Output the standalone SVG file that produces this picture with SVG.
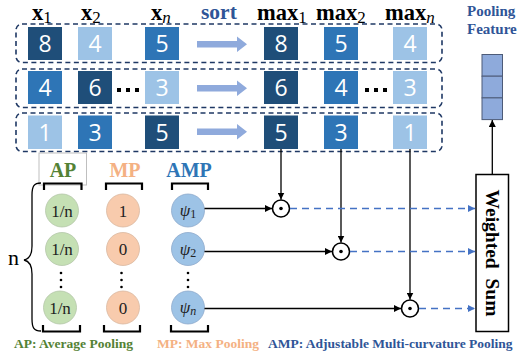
<svg xmlns="http://www.w3.org/2000/svg" width="519" height="362" viewBox="0 0 519 362">
<defs>
<style>
.dbox{fill:none;stroke:#1f3864;stroke-width:1.6;stroke-dasharray:5,3.5}
.dk{fill:#1f4e79}.md{fill:#2e75b6}.lt{fill:#9dc3e6}
.num{font-family:"Open Sans","Liberation Sans",sans-serif;font-size:23px;fill:#fff;text-anchor:middle}
.hdr{font-family:"Liberation Serif",serif;font-weight:bold;font-size:22.5px;fill:#000}
.sub{font-family:"Liberation Serif",serif;font-weight:normal;font-size:17px;fill:#000}
.subi{font-family:"Liberation Serif",serif;font-weight:normal;font-style:italic;font-size:17px;fill:#000}
.sarrow{fill:#8faadc}
.bl{font-family:"Liberation Serif",serif;font-weight:bold;fill:#2f5597}
.ctext{font-family:"Liberation Serif",serif;font-size:17px;fill:#222;text-anchor:middle}
.cg{fill:#c5e0b4;stroke:#b4c7a8;stroke-width:0.8}
.co{fill:#f8cbad;stroke:#d9b8a0;stroke-width:0.8}
.cb{fill:#9dc3e6;stroke:#8eaacc;stroke-width:0.8}
.brk{fill:none;stroke:#000;stroke-width:2.2}
.ln{fill:none;stroke:#000;stroke-width:1.3}
.dash{fill:none;stroke:#4472c4;stroke-width:1.5;stroke-dasharray:7,5}
.dot{fill:#000}
.cell{fill:#8eaadb;stroke:#4d5b78;stroke-width:1}
.odot{fill:#fff;stroke:#000;stroke-width:1.6}
</style>
<marker id="ah" viewBox="0 0 10 10" refX="10" refY="5" markerWidth="7" markerHeight="7" markerUnits="userSpaceOnUse" orient="auto"><path d="M0,0L10,5L0,10z" fill="#000"/></marker>
<marker id="ahb" viewBox="0 0 10 10" refX="10" refY="5" markerWidth="7" markerHeight="7" markerUnits="userSpaceOnUse" orient="auto"><path d="M0,0L10,5L0,10z" fill="#4472c4"/></marker>
</defs>
<rect width="519" height="362" fill="#fff"/>

<g id="headers">
<text x="32" y="20" class="hdr">x<tspan class="sub" dy="3">1</tspan></text>
<text x="81" y="20" class="hdr">x<tspan class="sub" dy="3">2</tspan></text>
<text x="151" y="20" class="hdr">x<tspan class="subi" dy="3">n</tspan></text>
<text x="201" y="19" class="bl" font-size="21.5">sort</text>
<text x="257" y="20" class="hdr">max<tspan class="sub" dy="3">1</tspan></text>
<text x="316" y="20" class="hdr">max<tspan class="sub" dy="3">2</tspan></text>
<text x="385" y="20" class="hdr">max<tspan class="subi" dy="3">n</tspan></text>
<text x="467" y="16" class="bl" font-size="15">Pooling</text>
<text x="467" y="34" class="bl" font-size="15">Feature</text>
</g>

<g id="row1">
<rect x="16" y="24" width="426" height="38.5" rx="6" class="dbox"/>
<rect x="28" y="27" width="34" height="33" class="dk"/><text x="45" y="52" class="num">8</text>
<rect x="78" y="27" width="34" height="33" class="lt"/><text x="95" y="52" class="num">4</text>
<rect x="145" y="27" width="34" height="33" class="md"/><text x="162" y="52" class="num">5</text>
<path d="M197,41 H237 V36.5 L247,44.3 L237,52 V47.6 H197 Z" class="sarrow"/>
<rect x="264" y="27" width="34" height="33" class="dk"/><text x="281" y="52" class="num">8</text>
<rect x="324" y="27" width="34" height="33" class="md"/><text x="341" y="52" class="num">5</text>
<rect x="393" y="27" width="34" height="33" class="lt"/><text x="410" y="52" class="num">4</text>
</g>
<g id="row2">
<rect x="16" y="69" width="426" height="38.5" rx="6" class="dbox"/>
<rect x="28" y="71" width="34" height="33" class="md"/><text x="45" y="96" class="num">4</text>
<rect x="78" y="71" width="34" height="33" class="dk"/><text x="95" y="96" class="num">6</text>
<rect x="117" y="88" width="4" height="4" class="dot"/><rect x="126" y="88" width="4" height="4" class="dot"/><rect x="135" y="88" width="4" height="4" class="dot"/>
<rect x="145" y="71" width="34" height="33" class="lt"/><text x="162" y="96" class="num">3</text>
<path d="M197,85 H237 V80.5 L247,88.3 L237,96 V91.6 H197 Z" class="sarrow"/>
<rect x="264" y="71" width="34" height="33" class="dk"/><text x="281" y="96" class="num">6</text>
<rect x="324" y="71" width="34" height="33" class="md"/><text x="341" y="96" class="num">4</text>
<rect x="365" y="88" width="4" height="4" class="dot"/><rect x="374" y="88" width="4" height="4" class="dot"/><rect x="383" y="88" width="4" height="4" class="dot"/>
<rect x="393" y="71" width="34" height="33" class="lt"/><text x="410" y="96" class="num">3</text>
</g>
<g id="row3">
<rect x="16" y="113" width="426" height="38.5" rx="6" class="dbox"/>
<rect x="28" y="115.5" width="34" height="33.5" class="lt"/><text x="45" y="140.5" class="num">1</text>
<rect x="78" y="115.5" width="34" height="33.5" class="md"/><text x="95" y="140.5" class="num">3</text>
<rect x="145" y="115.5" width="34" height="33.5" class="dk"/><text x="162" y="140.5" class="num">5</text>
<path d="M197,128.5 H237 V124 L247,131.7 L237,139.5 V135 H197 Z" class="sarrow"/>
<rect x="264" y="115.5" width="34" height="33.5" class="dk"/><text x="281" y="140.5" class="num">5</text>
<rect x="324" y="115.5" width="34" height="33.5" class="md"/><text x="341" y="140.5" class="num">3</text>
<rect x="393" y="115.5" width="34" height="33.5" class="lt"/><text x="410" y="140.5" class="num">1</text>
</g>

<g id="pooling-feature">
<rect x="482" y="54.5" width="20.5" height="21.7" class="cell"/>
<rect x="482" y="76.2" width="20.5" height="21.7" class="cell"/>
<rect x="482" y="97.9" width="20.5" height="21.7" class="cell"/>
</g>

<g id="ap">
<rect x="39" y="153" width="47.5" height="32" fill="none" stroke="#bfbfbf" stroke-width="1"/>
<text x="63" y="177" class="bl" font-size="20" style="fill:#548235" text-anchor="middle">AP</text>
<path d="M44,190 V183.5 H81.5 V190" class="brk"/>
<circle cx="62" cy="210.5" r="16.5" class="cg"/><text x="62" y="216.5" class="ctext">1/n</text>
<circle cx="62" cy="249" r="16.5" class="cg"/><text x="62" y="255" class="ctext">1/n</text>
<circle cx="61" cy="273" r="1.3" class="dot"/><circle cx="61" cy="280" r="1.3" class="dot"/><circle cx="61" cy="287" r="1.3" class="dot"/>
<circle cx="60" cy="307.5" r="16.5" class="cg"/><text x="60" y="313.5" class="ctext">1/n</text>
<path d="M43,325 V331.5 H80 V325" class="brk"/>
</g>
<g id="mp">
<text x="125" y="177" class="bl" font-size="20" style="fill:#f4b183" text-anchor="middle">MP</text>
<path d="M106,190 V183.5 H142 V190" class="brk"/>
<circle cx="123" cy="210.5" r="16.5" class="co"/><text x="123" y="216.5" class="ctext">1</text>
<circle cx="123" cy="249" r="16.5" class="co"/><text x="123" y="255" class="ctext">0</text>
<circle cx="121.5" cy="273" r="1.3" class="dot"/><circle cx="121.5" cy="280" r="1.3" class="dot"/><circle cx="121.5" cy="287" r="1.3" class="dot"/>
<circle cx="123" cy="307.5" r="16.5" class="co"/><text x="123" y="313.5" class="ctext">0</text>
<path d="M104,325 V331.5 H140 V325" class="brk"/>
</g>
<g id="amp">
<text x="189" y="177" class="bl" font-size="20" style="fill:#2e75b6" text-anchor="middle">AMP</text>
<path d="M172,190 V183.5 H208 V190" class="brk"/>
<circle cx="188" cy="210.5" r="16.5" class="cb"/><text x="188" y="216" class="ctext" font-style="italic">ψ<tspan font-style="normal" font-size="12" dy="2">1</tspan></text>
<circle cx="188" cy="249" r="16.5" class="cb"/><text x="188" y="254.5" class="ctext" font-style="italic">ψ<tspan font-style="normal" font-size="12" dy="2">2</tspan></text>
<circle cx="188" cy="273" r="1.3" class="dot"/><circle cx="188" cy="280" r="1.3" class="dot"/><circle cx="188" cy="287" r="1.3" class="dot"/>
<circle cx="188" cy="307.5" r="16.5" class="cb"/><text x="188" y="313" class="ctext" font-style="italic">ψ<tspan font-size="12" dy="2">n</tspan></text>
<path d="M171,325 V331.5 H208 V325" class="brk"/>
</g>

<g id="brace">
<text x="8" y="265" font-family="Liberation Serif,serif" font-size="22">n</text>
<path d="M41,183 C34,183 32,186 32,195 V246 C32,254 29,259 24,260 C29,261 32,266 32,274 V319 C32,328 34,331 41,331" class="ln" stroke-width="1.4"/>
</g>

<g id="mult1"><circle cx="281" cy="208.5" r="8.5" class="odot"/><circle cx="281" cy="208.5" r="1.8" class="dot"/></g>
<g id="mult2"><circle cx="341" cy="251.5" r="8.5" class="odot"/><circle cx="341" cy="251.5" r="1.8" class="dot"/></g>
<g id="mult3"><circle cx="410" cy="308.5" r="8.5" class="odot"/><circle cx="410" cy="308.5" r="1.8" class="dot"/></g>

<g id="weighted-sum">
<rect x="476" y="174.5" width="32.5" height="157" fill="#fff" stroke="#000" stroke-width="1.5"/>
<text transform="translate(485.5,253) rotate(90)" font-family="Liberation Serif,serif" font-weight="bold" font-size="19.5" text-anchor="middle" xml:space="preserve">Weighted  Sum</text>
</g>

<g id="connectors">
<line x1="281" y1="149" x2="281" y2="199.5" class="ln" marker-end="url(#ah)"/>
<line x1="341" y1="149" x2="341" y2="242.5" class="ln" marker-end="url(#ah)"/>
<line x1="410" y1="149" x2="410" y2="299.5" class="ln" marker-end="url(#ah)"/>
<line x1="204.5" y1="208.5" x2="272" y2="208.5" class="ln" marker-end="url(#ah)"/>
<line x1="204.5" y1="251.5" x2="332" y2="251.5" class="ln" marker-end="url(#ah)"/>
<line x1="204.5" y1="308.5" x2="401" y2="308.5" class="ln" marker-end="url(#ah)"/>
<line x1="290" y1="208.5" x2="475" y2="208.5" class="dash" marker-end="url(#ahb)"/>
<line x1="350" y1="251.5" x2="475" y2="251.5" class="dash" marker-end="url(#ahb)"/>
<line x1="419" y1="308.5" x2="475" y2="308.5" class="dash" marker-end="url(#ahb)"/>
<line x1="492.3" y1="174.5" x2="492.3" y2="120" class="ln" marker-end="url(#ah)"/>
</g>

<g id="legend">
<text x="14" y="348" class="bl" font-size="13.5" style="fill:#548235">AP: Average Pooling</text>
<text x="157" y="348" class="bl" font-size="13.5" style="fill:#f4b183">MP: Max Pooling</text>
<text x="268" y="348" class="bl" font-size="13.5" style="fill:#2f5597">AMP: Adjustable Multi-curvature Pooling</text>
</g>
</svg>
